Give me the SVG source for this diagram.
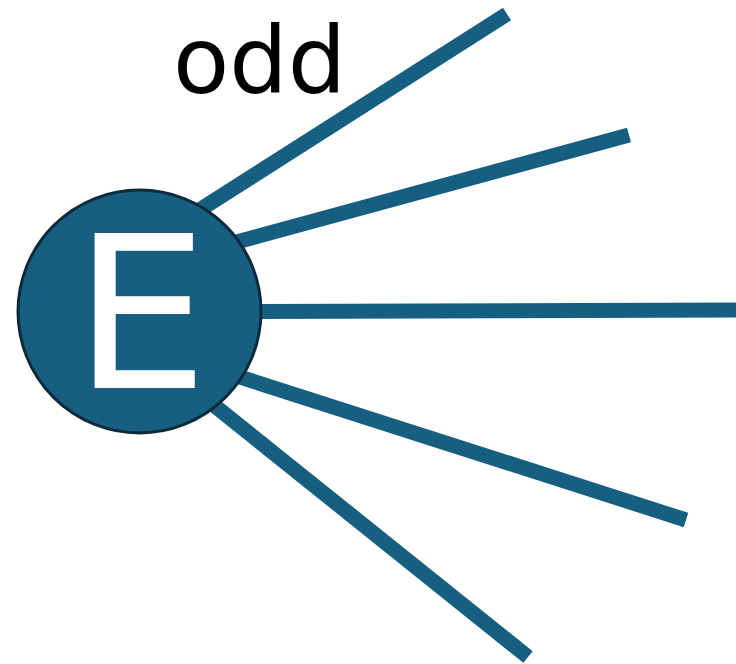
<svg xmlns="http://www.w3.org/2000/svg" width="736" height="664" viewBox="0 0 736 664">
<style>
.edge{stroke:#165f80;stroke-width:15;fill:none;stroke-linecap:butt}
.node{fill:#165f80;stroke:#0d2a3a;stroke-width:3}
.lbl{font-family:"DejaVu Sans",sans-serif;fill:#ffffff;font-size:213px}
.odd{font-family:"DejaVu Sans",sans-serif;fill:#000000;font-size:92px}
</style>
<rect width="736" height="664" fill="#ffffff"/>
<g id="connectors">
<line class="edge" x1="192.6" y1="214.4" x2="507" y2="14"/>
<line class="edge" x1="227.3" y1="244.6" x2="629" y2="135"/>
<line class="edge" x1="250" y1="311.5" x2="736" y2="310"/>
<line class="edge" x1="230.5" y1="374" x2="686" y2="520"/>
<line class="edge" x1="206" y1="398.8" x2="528" y2="657"/>
</g>
<g id="node-E">
<circle class="node" cx="139.5" cy="311.5" r="121.5"/>
<text class="lbl" x="141" y="388" text-anchor="middle">E</text>
</g>
<g id="label-odd">
<text class="odd" x="173" y="93">odd</text>
</g>
</svg>
